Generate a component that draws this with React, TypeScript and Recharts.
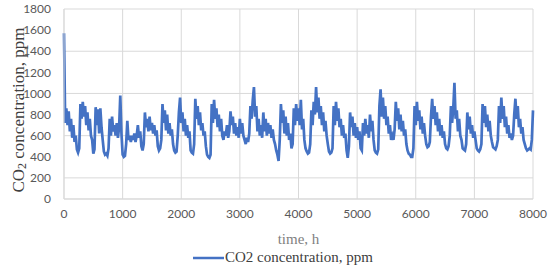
import React from "react";
import {
  LineChart,
  Line,
  XAxis,
  YAxis,
  CartesianGrid,
  Legend,
  Label,
} from "recharts";

// CO2 readings, one every 20 h, grouped per 1000 h block
const co2H0 = [
  1570, 720, 860, 700, 830, 640, 760, 580, 700, 540,
  600, 470, 440, 480, 900, 760, 920, 780, 880, 700,
  820, 650, 760, 600, 560, 430, 470, 870, 700, 850,
  620, 860, 680, 560, 450, 420, 430, 410, 480, 760,
  600, 780, 640, 700, 600, 720, 580, 680, 980, 620,
];
const co2H1000 = [
  420, 400, 410, 520, 740, 560, 600, 540, 600, 560,
  620, 540, 600, 700, 580, 640, 500, 460, 520, 820,
  680, 760, 640, 780, 650, 720, 620, 700, 600, 650,
  500, 460, 480, 560, 900, 720, 840, 650, 800, 620,
  720, 600, 660, 520, 460, 440, 450, 600, 820, 960,
];
const co2H2000 = [
  720, 820, 640, 760, 600, 700, 580, 640, 460, 440,
  430, 520, 950, 760, 880, 700, 820, 650, 720, 600,
  640, 500, 420, 400, 390, 420, 900, 720, 940, 760,
  860, 680, 800, 640, 760, 600, 560, 640, 600, 700,
  580, 640, 830, 700, 780, 620, 720, 600, 680, 580,
];
const co2H3000 = [
  760, 620, 720, 600, 560, 520, 580, 540, 620, 880,
  760, 940, 1060, 780, 880, 640, 760, 600, 700, 580,
  820, 640, 760, 600, 720, 620, 700, 580, 660, 560,
  520, 460, 420, 360, 560, 900, 720, 840, 620, 780,
  600, 720, 560, 620, 480, 520, 860, 700, 900, 740,
];
const co2H4000 = [
  860, 700, 940, 660, 760, 560, 480, 450, 430, 440,
  520, 840, 700, 920, 800, 1060, 820, 960, 760, 880,
  700, 820, 640, 740, 600, 520, 450, 430, 440, 480,
  880, 700, 920, 740, 860, 680, 760, 600, 700, 580,
  620, 460, 390, 500, 820, 680, 780, 600, 720, 580,
];
const co2H5000 = [
  680, 560, 640, 480, 460, 720, 600, 760, 620, 700,
  580, 800, 640, 740, 560, 460, 440, 430, 470, 880,
  1040, 780, 960, 760, 880, 700, 780, 620, 700, 560,
  600, 560, 660, 920, 740, 860, 660, 800, 640, 740,
  600, 660, 520, 460, 430, 420, 400, 400, 480, 880,
];
const co2H6000 = [
  700, 920, 740, 840, 660, 780, 620, 720, 600, 520,
  490, 500, 540, 780, 950, 760, 880, 700, 820, 640,
  760, 600, 700, 580, 640, 520, 480, 470, 500, 600,
  880, 720, 860, 1100, 760, 840, 640, 760, 600, 560,
  480, 470, 460, 520, 820, 660, 780, 620, 700, 580,
];
const co2H7000 = [
  640, 560, 480, 460, 450, 470, 520, 900, 720, 880,
  680, 800, 640, 740, 600, 540, 490, 480, 470, 500,
  560, 880, 720, 960, 760, 880, 680, 780, 620, 700,
  580, 620, 560, 600, 800, 950, 760, 880, 680, 760,
  620, 680, 560, 520, 480, 460, 470, 480, 470, 560,
];
const co2End = 840;

const hourTicks = [0, 1000, 2000, 3000, 4000, 5000, 6000, 7000, 8000];
const ppmTicks = [0, 200, 400, 600, 800, 1000, 1200, 1400, 1600, 1800];

const blocks = [co2H0, co2H1000, co2H2000, co2H3000, co2H4000, co2H5000, co2H6000, co2H7000];
const data = blocks
  .flatMap((b, bi) => b.map((v, i) => ({ hour: bi * 1000 + i * 20, co2: v })))
  .concat({ hour: 8000, co2: co2End });

const serif = "'Liberation Serif', 'Times New Roman', serif";
const tickStyle = { fontFamily: "Lato, sans-serif", fontSize: 12, fill: "#595959" };

const YTitle = () => (
  <text
    transform="rotate(-90, 18, 110)"
    x={18}
    y={110}
    textAnchor="middle"
    dominantBaseline="central"
    fontFamily={serif}
    fontSize={17}
    fill="#404040"
  >
    CO
    <tspan dy={4} fontSize={12}>2</tspan>
    <tspan dy={-4}> concentration, ppm</tspan>
  </text>
);

const LegendBox = () => (
  <div style={{ display: "flex", alignItems: "center", marginLeft: 193, marginTop: 2 }}>
    <svg width={31} height={4}>
      <line x1={0} y1={2} x2={31} y2={2} stroke="#4472C4" strokeWidth={2.5} />
    </svg>
    <span style={{ fontFamily: serif, fontSize: 15, color: "#404040", marginLeft: 1 }}>
      CO2 concentration, ppm
    </span>
  </div>
);

export default function App() {
  return (
    <div style={{ position: "absolute", left: 0, top: 0, width: 550, height: 270, background: "#fff" }}>
      <LineChart width={550} height={270} data={data} margin={{ top: 9, right: 17, bottom: 3, left: 0 }}>
        <CartesianGrid stroke="#d9d9d9" strokeWidth={1} />
        <XAxis
          dataKey="hour"
          type="number"
          domain={[0, 8000]}
          ticks={hourTicks}
          tickLine={false}
          tickSize={0}
          tickMargin={10}
          axisLine={{ stroke: "#d9d9d9" }}
          tick={tickStyle}
          height={48}
        >
          <Label
            value="time, h"
            position="insideBottom"
            offset={3}
            style={{ fontFamily: serif, fontSize: 15, fill: "#7f7f7f" }}
          />
        </XAxis>
        <YAxis
          type="number"
          domain={[0, 1800]}
          ticks={ppmTicks}
          tickLine={false}
          tickSize={0}
          tickMargin={13}
          axisLine={{ stroke: "#d9d9d9" }}
          tick={tickStyle}
          width={64}
        >
          <Label content={<YTitle />} />
        </YAxis>
        <Legend verticalAlign="bottom" height={20} content={<LegendBox />} wrapperStyle={{ left: 0, width: 550 }} />
        <Line
          type="linear"
          dataKey="co2"
          stroke="#4472C4"
          strokeWidth={2.7}
          dot={false}
          isAnimationActive={false}
          legendType="plainline"
        />
      </LineChart>
    </div>
  );
}
